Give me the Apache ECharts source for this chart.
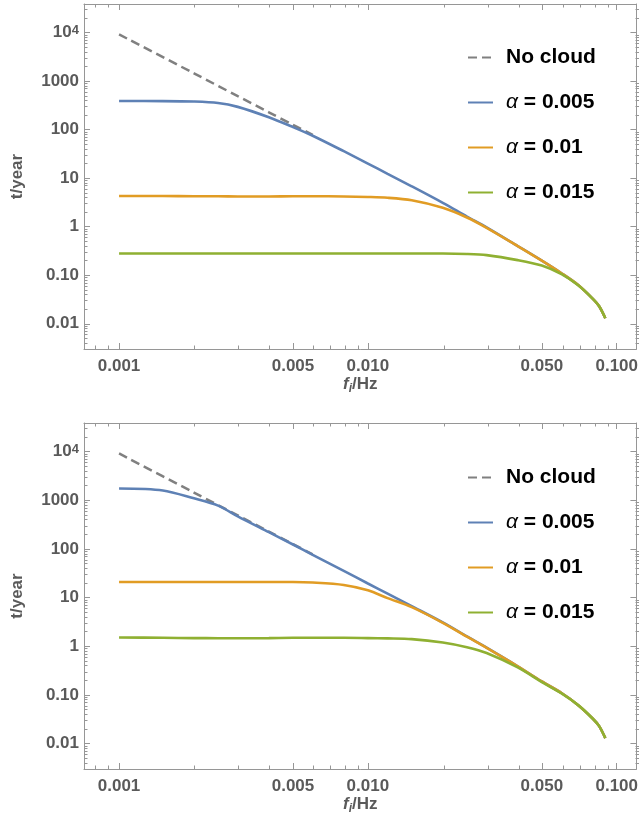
<!DOCTYPE html>
<html>
<head>
<meta charset="utf-8">
<script src="https://cdn.jsdelivr.net/npm/echarts@6/dist/echarts.min.js"></script>
<style>
  html, body { margin: 0; padding: 0; background: #fff; }
  #chart { width: 641px; height: 820px; }
</style>
</head>
<body>
<div id="chart"></div>
<script>
;(function () {
  'use strict'

  // f_i in Hz, shared by the cloud curves
  var freq = [0.001, 0.0015, 0.002, 0.0025, 0.003, 0.004, 0.005, 0.006, 0.008, 0.01, 0.012,
    0.015, 0.02, 0.025, 0.03, 0.04, 0.05, 0.06, 0.07, 0.08, 0.085, 0.09]

  // no cloud (dashed), only visible until it runs under the blue curve
  var noCloudFreq = [0.001, 0.002, 0.003, 0.004, 0.005, 0.006]
  var noCloudT = [9200, 1450, 490, 228, 126, 78]

  // upper panel, t in years
  var topA005 = [389, 388, 380, 355, 295, 180, 113, 75, 36, 20, 12.3, 6.8, 3.1, 1.62, 0.97, 0.40,
    0.20, 0.11, 0.063, 0.033, 0.023, 0.013]
  var topA01 = [4.3, 4.3, 4.25, 4.25, 4.2, 4.2, 4.25, 4.25, 4.2, 4.1, 3.95, 3.5, 2.45, 1.55, 0.95,
    0.40, 0.20, 0.11, 0.063, 0.033, 0.023, 0.013]
  var topA015 = [0.28, 0.28, 0.28, 0.28, 0.28, 0.28, 0.28, 0.28, 0.28, 0.28, 0.28, 0.28, 0.28,
    0.275, 0.26, 0.205, 0.158, 0.105, 0.062, 0.033, 0.023, 0.013]

  // lower panel
  var botA005 = [1750, 1600, 1100, 780, 470, 222, 124, 76, 35.5, 19.6, 12.1, 6.7, 3.1, 1.6, 0.94,
    0.39, 0.19, 0.11, 0.062, 0.033, 0.023, 0.013]
  var botA01 = [21, 21, 21, 21, 21, 21, 21, 20.5, 18.3, 14.2, 9.8, 6.4, 3.05, 1.58, 0.93, 0.39,
    0.19, 0.11, 0.062, 0.033, 0.023, 0.013]
  var botA015 = [1.52, 1.5, 1.48, 1.47, 1.47, 1.48, 1.5, 1.5, 1.5, 1.48, 1.46, 1.41, 1.2, 0.96,
    0.73, 0.37, 0.185, 0.108, 0.062, 0.033, 0.023, 0.013]

  var seriesNames = ['No cloud', 'α = 0.005', 'α = 0.01', 'α = 0.015']

  // ticks
  var xMajor = [0.001, 0.005, 0.01, 0.05, 0.1]
  var xMajorLabels = ['0.001', '0.005', '0.010', '0.050', '0.100']
  var xMinor = [0.0008, 0.0009, 0.002, 0.003, 0.004, 0.006, 0.007, 0.008, 0.009,
    0.02, 0.03, 0.04, 0.06, 0.07, 0.08, 0.09]
  var yMajor = [0.01, 0.1, 1, 10, 100, 1000, 10000]
  var yMajorLabels = ['0.01', '0.10', '1', '10', '100', '1000', '{n|10}{s|4}']

  var X_RANGE = [0.000723, 0.12]
  var Y_RANGE = [0.00302, 38900]

  var yMinor = []
  ;[0.001, 0.01, 0.1, 1, 10, 100, 1000, 10000].forEach(function (d) {
    for (var m = 2; m <= 9; m++) {
      var v = +(m * d).toPrecision(3)
      if (v > Y_RANGE[0] && v < Y_RANGE[1]) yMinor.push(v)
    }
  })

  var COLORS = {
    noCloud: '#808080',
    a005: '#5E81B5',
    a01: '#E19C24',
    a015: '#8FB032',
    frame: '#969696',
    label: '#5a5a5a'
  }
  var FONT = 'Liberation Sans, Arial, sans-serif'

  var PANELS = [
    { top: 4, height: 345, legendTop: 47, data: [topA005, topA01, topA015] },
    { top: 423, height: 346, legendTop: 467, data: [botA005, botA01, botA015] }
  ]

  function pickLabel(vals, labels) {
    return function (v) {
      for (var i = 0; i < vals.length; i++) {
        if (Math.abs(Math.log(v / vals[i])) < 1e-6) return labels[i]
      }
      return ''
    }
  }

  var labelText = {
    color: COLORS.label,
    fontFamily: FONT,
    fontWeight: 'bold',
    fontSize: 17
  }

  function axis(dim, gridIndex, position, ticks, tickLen, withLine, labels) {
    var range = dim === 'x' ? X_RANGE : Y_RANGE
    var a = {
      type: 'log',
      logBase: 10,
      gridIndex: gridIndex,
      position: position,
      min: range[0],
      max: range[1],
      axisLine: { show: withLine, onZero: false, lineStyle: { color: COLORS.frame, width: 1 } },
      axisTick: {
        show: true, inside: true, length: tickLen, customValues: ticks,
        lineStyle: { color: COLORS.frame, width: 1 }
      },
      axisLabel: { show: false },
      splitLine: { show: false },
      minorTick: { show: false }
    }
    if (labels) {
      a.axisLabel = Object.assign({
        show: true,
        customValues: labels.vals,
        formatter: pickLabel(labels.vals, labels.text),
        margin: dim === 'x' ? 9 : 5,
        rich: {
          n: { color: COLORS.label, fontFamily: FONT, fontWeight: 'bold', fontSize: 17 },
          s: { color: COLORS.label, fontFamily: FONT, fontWeight: 'bold', fontSize: 13, verticalAlign: 'top', lineHeight: 12 }
        }
      }, labelText)
    }
    return a
  }

  var grids = []
  var xAxes = []
  var yAxes = []
  var series = []
  var legends = []

  PANELS.forEach(function (p, k) {
    var gMain = k * 2
    var gMinor = k * 2 + 1
    var box = { left: 84, right: 2, top: p.top, height: p.height, containLabel: false }
    grids.push(Object.assign({}, box), Object.assign({}, box))

    var xb = axis('x', gMain, 'bottom', xMajor, 6, true, { vals: xMajor, text: xMajorLabels })
    xb.name = '{f|f}{i|i}{h|/Hz}'
    xb.nameLocation = 'middle'
    xb.nameGap = 22
    xb.nameTextStyle = {
      rich: {
        f: { color: COLORS.label, fontFamily: FONT, fontWeight: 'bold', fontStyle: 'italic', fontSize: 17 },
        i: { color: COLORS.label, fontFamily: FONT, fontWeight: 'bold', fontStyle: 'italic', fontSize: 12, padding: [9, 0, 0, 0] },
        h: { color: COLORS.label, fontFamily: FONT, fontWeight: 'bold', fontSize: 17 }
      }
    }
    xAxes.push(xb)
    xAxes.push(axis('x', gMain, 'top', xMajor, 6, true))
    xAxes.push(axis('x', gMinor, 'bottom', xMinor, 3.5, false))
    xAxes.push(axis('x', gMinor, 'top', xMinor, 3.5, false))

    var yl = axis('y', gMain, 'left', yMajor, 6, true, { vals: yMajor, text: yMajorLabels })
    yl.name = 't/year'
    yl.nameLocation = 'middle'
    yl.nameGap = 58
    yl.nameTextStyle = { color: COLORS.label, fontFamily: FONT, fontWeight: 'bold', fontSize: 17 }
    yAxes.push(yl)
    yAxes.push(axis('y', gMain, 'right', yMajor, 6, true))
    yAxes.push(axis('y', gMinor, 'left', yMinor, 3.5, false))
    yAxes.push(axis('y', gMinor, 'right', yMinor, 3.5, false))

    var xi = k * 4
    var yi = k * 4
    function pairs(xs, ys) {
      return xs.map(function (f, i) { return [f, ys[i]] })
    }
    function line(name, xs, ys, color, dashed, z) {
      return {
        type: 'line',
        name: name,
        xAxisIndex: xi,
        yAxisIndex: yi,
        data: pairs(xs, ys),
        symbol: 'none',
        showSymbol: false,
        smooth: 0.3,
        z: z,
        itemStyle: { color: color },
        lineStyle: dashed
          ? { color: color, width: 2.5, type: [9, 5] }
          : { color: color, width: 2.6 }
      }
    }
    series.push(line(seriesNames[0], noCloudFreq, noCloudT, COLORS.noCloud, true, 2))
    series.push(line(seriesNames[1], freq, p.data[0], COLORS.a005, false, 3))
    series.push(line(seriesNames[2], freq, p.data[1], COLORS.a01, false, 4))
    series.push(line(seriesNames[3], freq, p.data[2], COLORS.a015, false, 5))

    legends.push({
      orient: 'vertical',
      left: 467,
      top: p.legendTop,
      padding: 0,
      itemWidth: 25,
      itemHeight: 14,
      itemGap: 24,
      selectedMode: false,
      data: seriesNames,
      itemStyle: { opacity: 0 },
      formatter: function (name) {
        if (name.charAt(0) === 'α') return '{a|α}{b|' + name.slice(1) + '}'
        return '{b|' + name + '}'
      },
      textStyle: {
        padding: [0, 0, 0, 8],
        rich: {
          a: { fontFamily: FONT, fontStyle: 'italic', fontWeight: 'normal', fontSize: 21, color: '#000' },
          b: { fontFamily: FONT, fontWeight: 'bold', fontSize: 21, color: '#000' }
        }
      }
    })
  })

  var chart = echarts.init(document.getElementById('chart'), null, { renderer: 'canvas' })
  chart.setOption({
    animation: false,
    backgroundColor: '#fff',
    grid: grids,
    xAxis: xAxes,
    yAxis: yAxes,
    legend: legends,
    series: series
  })
})()
</script>
</body>
</html>
